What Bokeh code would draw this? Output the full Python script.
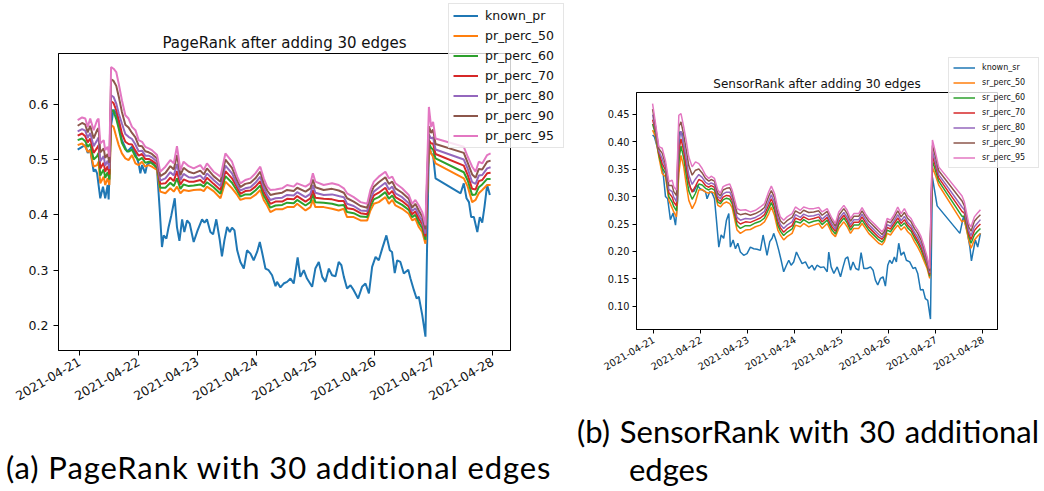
import math
from bokeh.plotting import figure
from bokeh.models import Range1d, FixedTicker, NumeralTickFormatter, Div
from bokeh.embed import file_html
from bokeh.resources import INLINE

# ---------------- shared axis data ----------------
day_hours = [0, 24, 48, 72, 96, 120, 144, 168]
day_labels = ["2021-04-21", "2021-04-22", "2021-04-23", "2021-04-24",
              "2021-04-25", "2021-04-26", "2021-04-27", "2021-04-28"]
colors = ["#1f77b4", "#ff7f0e", "#2ca02c", "#d62728", "#9467bd", "#8c564b", "#e377c2"]

# ---------------- panel (a): PageRank ----------------
pr_labels = ["known_pr", "pr_perc_50", "pr_perc_60", "pr_perc_70", "pr_perc_80", "pr_perc_90", "pr_perc_95"]

known_pr_h = [
    -0.8, 1.0, 2.3, 3.3, 4.3, 5.7, 6.4, 7.1, 8.4, 9.5,
    10.4, 11.4, 11.8, 12.8, 13.8, 14.9, 15.9, 17.2, 19.3, 21.3,
    22.7, 24.0, 24.7, 25.4, 26.7, 27.4, 28.8, 30.1, 31.5, 32.6,
    33.5, 34.2, 35.3, 36.2, 37.3, 38.7, 39.6, 40.6, 41.7, 42.6,
    43.7, 44.8, 46.4, 48.0, 49.8, 50.8, 51.8, 53.2, 54.3, 55.6,
    57.0, 57.9, 58.9, 60.0, 61.1, 62.0, 63.0, 64.1, 65.4, 66.8,
    68.1, 69.5, 70.8, 72.2, 73.3, 74.2, 75.6, 76.9, 78.3, 79.7,
    80.3, 81.7, 83.0, 84.4, 85.8, 87.1, 88.7, 89.8, 91.2, 92.5,
    94.6, 95.9, 97.3, 98.7, 100.0, 101.4, 102.7, 104.1, 105.4, 106.5,
    107.5, 108.8, 110.2, 111.5, 113.3, 114.9, 116.3, 117.7, 119.0, 120.4,
    121.7, 123.1, 124.8, 126.2, 127.1, 128.2, 129.2, 130.5, 131.9, 133.7,
    134.6, 136.0, 137.1, 138.0, 139.4, 140.7, 142.1, 143.0, 143.8, 144.8,
    155.0, 156.3, 157.4, 158.4, 159.3, 160.4, 161.8, 162.8, 163.8, 164.7,
    165.8, 166.9]
known_pr = [
    .518, .523, .526, .512, .518, .478, .482, .475, .430, .451,
    .430, .454, .428, .562, .590, .583, .562, .535, .514, .523,
    .510, .493, .475, .490, .475, .490, .496, .493, .481, .408,
    .342, .363, .357, .378, .399, .430, .378, .353, .392, .369,
    .390, .384, .351, .372, .392, .386, .392, .369, .365, .392,
    .355, .325, .354, .378, .369, .377, .372, .336, .315, .303,
    .336, .330, .318, .333, .351, .333, .303, .300, .291, .271,
    .279, .269, .276, .279, .285, .276, .323, .288, .300, .285,
    .270, .303, .315, .288, .279, .303, .291, .289, .315, .309,
    .288, .267, .273, .264, .249, .270, .276, .258, .306, .324,
    .318, .339, .363, .336, .333, .295, .318, .315, .294, .301,
    .285, .264, .249, .252, .219, .180, .526, .511, .508, .466,
    .439, .457, .430, .423, .396, .396, .369, .396, .386, .414,
    .454, .436]

pr_h = [
    -0.8, 1.0, 2.3, 3.3, 4.3, 5.7, 7.1, 7.7, 8.4, 9.8,
    10.4, 11.4, 12.1, 12.8, 13.8, 14.9, 15.9, 17.2, 18.6, 19.9,
    21.3, 22.7, 24.0, 25.4, 26.7, 28.1, 29.4, 31.5, 32.8, 34.9,
    36.9, 38.3, 39.6, 41.0, 42.3, 44.4, 46.4, 49.1, 50.5, 51.8,
    54.5, 57.3, 59.3, 62.0, 64.1, 65.4, 67.4, 69.5, 71.5, 73.5,
    74.9, 76.3, 77.6, 79.7, 82.4, 84.4, 87.1, 88.5, 91.9, 93.9,
    94.9, 95.9, 99.3, 102.7, 105.4, 107.5, 108.8, 111.5, 114.3, 117.0,
    118.3, 119.7, 121.7, 124.4, 125.8, 127.2, 128.5, 131.2, 133.9, 135.3,
    136.6, 138.0, 139.4, 140.7, 142.1, 143.0, 143.8, 144.8, 156.3, 157.9,
    159.7, 161.1, 162.4, 163.8, 165.8, 167.2]
pr_perc_50 = [
    .526, .529, .523, .514, .516, .487, .490, .496, .457, .469,
    .454, .466, .454, .562, .559, .541, .526, .511, .502, .499,
    .508, .493, .490, .496, .487, .490, .487, .481, .442, .439,
    .448, .442, .451, .439, .445, .443, .445, .446, .443, .451,
    .443, .430, .460, .448, .436, .427, .430, .430, .436, .445,
    .427, .417, .405, .410, .410, .414, .414, .420, .408, .414,
    .427, .414, .414, .411, .408, .411, .396, .396, .390, .390,
    .408, .420, .423, .432, .420, .427, .417, .411, .402, .390,
    .393, .378, .369, .348, .523, .511, .505, .493, .466, .451,
    .423, .427, .439, .445, .454, .454]
pr_perc_60 = [
    .535, .538, .533, .523, .528, .500, .506, .512, .471, .482,
    .467, .477, .464, .590, .587, .573, .556, .530, .518, .514,
    .518, .505, .499, .503, .494, .496, .493, .486, .449, .449,
    .458, .452, .466, .447, .455, .452, .453, .455, .451, .459,
    .450, .438, .470, .458, .443, .433, .437, .437, .444, .453,
    .435, .424, .413, .417, .418, .422, .421, .427, .417, .423,
    .437, .423, .422, .420, .417, .418, .405, .403, .397, .396,
    .415, .428, .432, .441, .429, .435, .425, .418, .409, .396,
    .400, .386, .376, .355, .530, .521, .518, .502, .477, .462,
    .436, .437, .450, .455, .465, .465]
pr_perc_70 = [
    .543, .547, .542, .531, .538, .512, .521, .526, .484, .494,
    .478, .488, .473, .605, .602, .589, .572, .547, .532, .528,
    .527, .516, .507, .510, .501, .501, .498, .491, .456, .457,
    .467, .461, .479, .455, .464, .460, .460, .463, .457, .467,
    .456, .445, .479, .466, .449, .438, .443, .444, .451, .461,
    .442, .430, .420, .424, .424, .429, .428, .434, .424, .430,
    .445, .431, .429, .428, .425, .425, .412, .410, .403, .401,
    .422, .435, .440, .449, .437, .443, .432, .425, .415, .401,
    .406, .393, .383, .361, .535, .529, .529, .510, .489, .472,
    .447, .446, .461, .463, .475, .476]
pr_perc_80 = [
    .551, .555, .552, .539, .548, .524, .535, .540, .497, .506,
    .489, .498, .483, .616, .613, .601, .583, .565, .546, .541,
    .537, .527, .515, .516, .507, .507, .504, .496, .462, .466,
    .477, .471, .492, .463, .474, .468, .467, .471, .464, .475,
    .463, .452, .489, .475, .454, .444, .448, .450, .458, .469,
    .449, .436, .427, .430, .431, .436, .435, .441, .432, .438,
    .454, .440, .436, .437, .434, .432, .420, .416, .408, .407,
    .429, .442, .449, .458, .446, .451, .439, .432, .421, .407,
    .412, .400, .389, .366, .545, .538, .540, .518, .500, .483,
    .459, .456, .471, .472, .484, .486]
pr_perc_90 = [
    .561, .566, .563, .549, .561, .538, .553, .557, .513, .520,
    .503, .510, .494, .645, .642, .633, .614, .586, .563, .558,
    .548, .540, .525, .524, .515, .513, .510, .502, .470, .476,
    .488, .482, .508, .472, .485, .478, .475, .480, .473, .484,
    .470, .460, .500, .485, .462, .450, .456, .458, .466, .478,
    .457, .444, .436, .438, .440, .445, .443, .449, .442, .448,
    .464, .450, .445, .447, .444, .440, .430, .424, .416, .413,
    .437, .451, .459, .468, .456, .460, .448, .440, .429, .413,
    .420, .408, .397, .374, .560, .548, .554, .528, .512, .494,
    .473, .467, .483, .482, .496, .498]
pr_perc_95 = [
    .571, .576, .574, .559, .574, .553, .571, .574, .529, .535,
    .517, .523, .505, .667, .664, .658, .637, .607, .580, .574,
    .559, .553, .535, .532, .523, .520, .517, .508, .478, .487,
    .499, .493, .524, .481, .496, .488, .484, .490, .481, .493,
    .478, .469, .511, .496, .469, .457, .463, .466, .475, .487,
    .466, .451, .445, .446, .448, .454, .451, .457, .451, .457,
    .475, .460, .454, .457, .454, .448, .439, .432, .423, .420,
    .445, .460, .469, .478, .466, .469, .457, .448, .436, .420,
    .427, .417, .405, .381, .595, .559, .568, .538, .523, .505,
    .487, .478, .496, .493, .508, .511]

# ---------------- panel (b): SensorRank ----------------
sr_labels = ["known_sr", "sr_perc_50", "sr_perc_60", "sr_perc_70", "sr_perc_80", "sr_perc_90", "sr_perc_95"]

known_sr_h = [
    -0.6, 0.3, 1.7, 3.4, 4.8, 6.0, 7.1, 8.5, 9.9, 11.1,
    12.2, 13.3, 14.5, 15.8, 17.4, 18.7, 20.4, 22.1, 23.5, 24.7,
    26.4, 27.2, 28.6, 29.8, 31.0, 32.0, 33.2, 34.4, 35.7, 37.1,
    38.3, 39.1, 40.5, 41.7, 42.9, 44.2, 45.9, 47.6, 49.3, 51.0,
    52.7, 54.4, 55.8, 57.0, 57.8, 59.2, 60.4, 61.2, 62.6, 63.8,
    65.0, 66.3, 67.7, 68.9, 70.1, 71.4, 72.8, 74.0, 75.7, 77.4,
    79.1, 80.8, 82.0, 83.3, 85.1, 86.8, 88.5, 89.3, 90.5, 91.9,
    93.6, 95.3, 96.6, 97.8, 99.0, 100.4, 101.7, 103.1, 104.6, 105.8,
    107.2, 108.9, 110.6, 111.9, 113.1, 114.3, 115.7, 117.0, 118.2, 119.4,
    120.4, 121.6, 122.8, 123.8, 125.0, 126.2, 127.6, 128.9, 130.6, 132.3,
    133.5, 134.7, 136.1, 137.4, 138.6, 139.8, 141.2, 142.2, 144.6, 156.2,
    158.0, 159.9, 161.3, 162.1, 164.1, 165.3, 166.7]
known_sr = [
    .412, .409, .391, .366, .342, .300, .296, .258, .270, .248,
    .293, .418, .415, .372, .336, .315, .309, .321, .315, .312,
    .309, .296, .309, .306, .296, .257, .208, .230, .224, .257,
    .269, .208, .221, .205, .215, .199, .193, .196, .208, .205,
    .204, .202, .230, .208, .193, .218, .224, .233, .218, .202,
    .184, .163, .175, .184, .175, .181, .199, .190, .178, .181,
    .169, .175, .166, .175, .171, .172, .163, .199, .172, .160,
    .172, .154, .172, .187, .190, .166, .181, .169, .166, .198,
    .169, .169, .172, .166, .148, .139, .151, .154, .137, .175,
    .184, .178, .190, .181, .215, .193, .199, .184, .181, .169,
    .171, .160, .130, .131, .114, .111, .077, .335, .283, .233,
    .263, .237, .208, .183, .221, .208, .233]

sr_h = [
    -0.6, 0.9, 2.6, 4.3, 6.0, 7.7, 9.4, 10.2, 11.6, 12.8,
    13.9, 15.3, 16.5, 17.9, 19.6, 21.3, 23.0, 24.7, 26.4, 28.1,
    29.3, 31.0, 32.7, 34.0, 35.4, 37.1, 38.8, 40.0, 42.5, 44.2,
    46.8, 49.3, 51.9, 54.4, 56.5, 58.7, 60.0, 61.6, 63.3, 64.6,
    66.3, 68.0, 70.6, 72.3, 74.8, 76.5, 79.1, 81.6, 84.2, 85.9,
    88.5, 91.0, 92.7, 94.4, 97.0, 98.7, 100.4, 102.1, 104.6, 106.3,
    108.0, 109.7, 111.4, 113.1, 114.8, 116.5, 117.7, 119.1, 120.8, 122.5,
    124.5, 126.2, 127.9, 129.6, 131.3, 133.0, 134.7, 136.4, 138.1, 139.5,
    140.8, 142.2, 143.7, 145.4, 157.3, 158.5, 160.7, 161.9, 163.6, 165.0,
    166.7]
sr_perc_50 = [
    .421, .409, .372, .342, .336, .293, .279, .272, .263, .342,
    .375, .354, .324, .293, .278, .290, .312, .313, .308, .306,
    .309, .306, .284, .281, .287, .290, .287, .280, .239, .233,
    .239, .240, .245, .248, .254, .269, .281, .266, .239, .230,
    .221, .227, .233, .248, .245, .251, .245, .248, .251, .242,
    .251, .233, .227, .242, .254, .245, .233, .242, .242, .251,
    .242, .233, .227, .221, .215, .212, .218, .233, .230, .239,
    .248, .239, .245, .236, .230, .218, .208, .196, .181, .169,
    .151, .354, .339, .321, .254, .257, .221, .206, .221, .227,
    .233]
sr_perc_60 = [
    .432, .414, .376, .352, .342, .300, .290, .282, .274, .365,
    .392, .370, .341, .310, .295, .306, .323, .321, .315, .312,
    .315, .312, .290, .287, .294, .297, .295, .287, .248, .242,
    .247, .247, .252, .255, .261, .278, .289, .275, .248, .237,
    .229, .235, .241, .255, .252, .258, .252, .255, .257, .249,
    .257, .239, .232, .249, .261, .252, .239, .248, .248, .257,
    .248, .239, .233, .227, .221, .217, .223, .239, .236, .245,
    .255, .246, .252, .243, .237, .225, .215, .203, .187, .174,
    .155, .365, .348, .328, .264, .264, .228, .215, .230, .236,
    .242]
sr_perc_70 = [
    .440, .419, .380, .360, .348, .307, .299, .290, .283, .384,
    .405, .383, .356, .325, .308, .319, .331, .328, .320, .317,
    .320, .317, .295, .291, .299, .302, .301, .293, .255, .250,
    .254, .253, .257, .261, .267, .285, .296, .282, .255, .243,
    .235, .241, .247, .261, .257, .263, .258, .260, .263, .254,
    .262, .244, .237, .254, .266, .257, .244, .253, .253, .263,
    .253, .244, .238, .232, .226, .222, .228, .244, .241, .250,
    .261, .251, .258, .248, .242, .230, .220, .208, .192, .177,
    .158, .374, .356, .334, .273, .270, .233, .222, .238, .244,
    .250]
sr_perc_80 = [
    .449, .423, .383, .369, .353, .313, .309, .299, .291, .403,
    .419, .396, .370, .339, .322, .332, .340, .335, .326, .322,
    .325, .322, .300, .296, .305, .308, .308, .299, .262, .257,
    .260, .259, .262, .267, .273, .292, .303, .289, .262, .249,
    .242, .248, .254, .267, .262, .268, .264, .265, .268, .259,
    .267, .249, .241, .259, .271, .262, .249, .258, .258, .268,
    .258, .249, .243, .237, .231, .226, .232, .249, .246, .255,
    .267, .256, .264, .253, .247, .235, .226, .214, .197, .181,
    .161, .382, .363, .340, .281, .276, .238, .229, .245, .251,
    .258]
sr_perc_90 = [
    .459, .428, .387, .379, .359, .320, .320, .309, .302, .427,
    .436, .412, .387, .356, .339, .348, .350, .343, .333, .328,
    .331, .328, .306, .301, .312, .315, .316, .306, .270, .267,
    .269, .266, .269, .274, .280, .301, .311, .298, .270, .256,
    .250, .256, .262, .274, .269, .275, .271, .272, .274, .266,
    .273, .255, .246, .266, .278, .269, .255, .264, .264, .274,
    .264, .255, .249, .243, .237, .231, .237, .255, .252, .261,
    .274, .263, .271, .260, .254, .242, .233, .221, .203, .186,
    .165, .393, .373, .347, .292, .283, .245, .237, .255, .261,
    .267]
sr_perc_95 = [
    .469, .433, .391, .388, .365, .327, .330, .318, .312, .448,
    .451, .427, .403, .372, .354, .363, .360, .351, .339, .333,
    .337, .333, .312, .306, .318, .321, .323, .312, .278, .275,
    .276, .272, .275, .281, .287, .309, .319, .306, .278, .263,
    .257, .263, .269, .281, .275, .281, .278, .278, .280, .272,
    .278, .260, .251, .272, .284, .275, .260, .269, .269, .280,
    .269, .260, .254, .248, .242, .236, .242, .260, .257, .266,
    .281, .269, .278, .266, .260, .248, .239, .227, .208, .190,
    .169, .403, .381, .354, .301, .290, .251, .245, .263, .269,
    .276]

pr_y_ticks = [0.2, 0.3, 0.4, 0.5, 0.6]
sr_y_ticks = [0.10, 0.15, 0.20, 0.25, 0.30, 0.35, 0.40, 0.45]

FONT = "DejaVu Sans"


def place(model, left, top):
    model.styles = {"position": "absolute", "left": f"{left}px", "top": f"{top}px", "margin": "0"}
    return model


def make_panel(title, series, *, width, height, borders, xr, yr,
               yticks, yfmt, title_size, tick_size, lw, tick_len, standoff_lbl):
    left, right, top, bottom = borders
    p = figure(width=width, height=height, output_backend="svg", toolbar_location=None,
               x_range=Range1d(*xr), y_range=Range1d(*yr),
               min_border_left=left, min_border_right=right,
               min_border_top=top, min_border_bottom=bottom)
    p.background_fill_color = "white"
    p.border_fill_color = "white"
    p.outline_line_color = "black"
    p.outline_line_width = 1
    p.grid.visible = False

    p.title.text = title
    p.title.align = "center"
    p.title.text_font = FONT
    p.title.text_font_style = "normal"
    p.title.text_font_size = title_size
    p.title.text_color = "#111111"
    p.title.standoff = 3

    for i, (xs, ys) in enumerate(series):
        p.line(xs, ys, line_color=colors[i], line_width=lw)

    for ax in (p.xaxis[0], p.yaxis[0]):
        ax.axis_line_color = "black"
        ax.major_tick_line_color = "black"
        ax.major_tick_in = 0
        ax.major_tick_out = tick_len
        ax.minor_tick_line_color = None
        ax.major_label_text_font = FONT
        ax.major_label_text_font_size = tick_size
        ax.major_label_text_color = "#111111"

    p.xaxis.ticker = FixedTicker(ticks=day_hours)
    p.xaxis.major_label_overrides = {h: lab for h, lab in zip(day_hours, day_labels)}
    p.xaxis.major_label_orientation = math.pi / 6
    p.yaxis.ticker = FixedTicker(ticks=yticks)
    p.yaxis.formatter = NumeralTickFormatter(format=yfmt)
    p.yaxis.major_label_standoff = standoff_lbl
    return p


def make_legend(labels, series, *, width, height, lw, font_size, glyph_w, glyph_h, spacing,
                label_standoff, label_w):
    # legend-only overlay: its ranges are far from the data, so only the legend shows
    q = figure(width=width, height=height, output_backend="svg", toolbar_location=None,
               x_axis_location=None, y_axis_location=None, title=None,
               x_range=Range1d(-1000, -999), y_range=Range1d(-1000, -999),
               min_border=0, min_border_left=0, min_border_right=0,
               min_border_top=0, min_border_bottom=0)
    q.background_fill_alpha = 0
    q.border_fill_alpha = 0
    q.outline_line_color = None
    q.grid.visible = False
    for i, (lab, (xs, ys)) in enumerate(zip(labels, series)):
        q.line(xs, ys, line_color=colors[i], line_width=lw, legend_label=lab)
    lg = q.legend[0]
    lg.location = "top_left"
    lg.margin = 1
    lg.padding = 4
    lg.spacing = spacing
    lg.glyph_width = glyph_w
    lg.glyph_height = glyph_h
    lg.label_height = glyph_h
    lg.label_width = label_w
    lg.label_standoff = label_standoff
    lg.label_text_font = FONT
    lg.label_text_font_size = font_size
    lg.label_text_color = "#111111"
    lg.border_line_color = "#cccccc"
    lg.border_line_width = 1
    lg.background_fill_color = "white"
    lg.background_fill_alpha = 0.8
    return q


pr_series = [(known_pr_h, known_pr)] + [(pr_h, s) for s in
             (pr_perc_50, pr_perc_60, pr_perc_70, pr_perc_80, pr_perc_90, pr_perc_95)]
sr_series = [(known_sr_h, known_sr)] + [(sr_h, s) for s in
             (sr_perc_50, sr_perc_60, sr_perc_70, sr_perc_80, sr_perc_90, sr_perc_95)]

pa = make_panel("PageRank after adding 30 edges", pr_series,
                width=588, height=413, borders=(58, 78, 53, 63),
                xr=(-8.6, 175.3), yr=(0.155, 0.6915), yticks=pr_y_ticks, yfmt="0.0",
                title_size="15px", tick_size="12.5px", lw=2, tick_len=5, standoff_lbl=5)

pb = make_panel("SensorRank after adding 30 edges", sr_series,
                width=448, height=413, borders=(48, 39, 92, 84),
                xr=(-8.8, 175.4), yr=(0.058, 0.4894), yticks=sr_y_ticks, yfmt="0.00",
                title_size="12px", tick_size="9.8px", lw=1.5, tick_len=4, standoff_lbl=3)

la = make_legend(pr_labels, pr_series, width=120, height=148, lw=2, font_size="12.5px",
                 glyph_w=25, glyph_h=15, spacing=5, label_standoff=7, label_w=74)
lb = make_legend(sr_labels, sr_series, width=96, height=113, lw=1.5, font_size="8px",
                 glyph_w=22, glyph_h=11, spacing=4, label_standoff=7, label_w=52)

cap_style = "font-family:Lato; font-size:31px; line-height:37.5px; color:#000; margin:0; padding:0;"
div_a = Div(text=f'<div style="{cap_style} white-space:nowrap; letter-spacing:0.9px;">'
                 '(a) PageRank with 30 additional edges</div>', width=575, height=40)
div_b = Div(text=f'<div style="{cap_style} width:462px;">'
                 '<div style="text-align:justify; text-align-last:justify; white-space:nowrap;">'
                 '(b) SensorRank with 30 additional</div>'
                 '<div style="padding-left:52px;">edges</div></div>', width=462, height=76)

place(pa, 0, 0)
place(pb, 588, 0)
place(la, 447, 2)
place(lb, 947, 56)
place(div_a, 6, 449)
place(div_b, 577, 413)

open("out.html", "w").write(file_html([pa, pb, la, lb, div_a, div_b], INLINE))
